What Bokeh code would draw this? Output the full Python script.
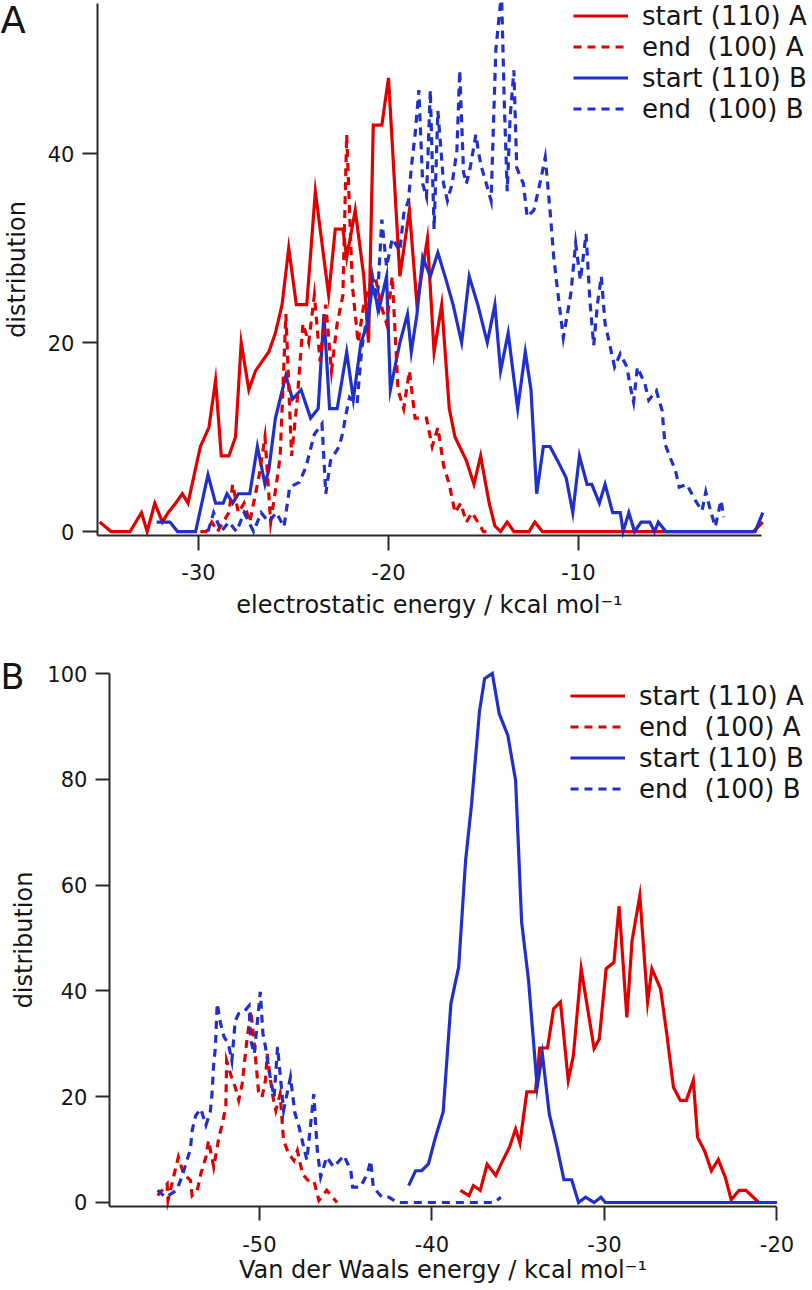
from bokeh.plotting import figure
from bokeh.layouts import column
from bokeh.models import FixedTicker, Legend, LegendItem, Label
from bokeh.embed import file_html
from bokeh.resources import INLINE

RED = "#e00000"
BLUE = "#2030c8"
FONT = "DejaVu Sans"
INK = "#151515"

legend_labels = ["start (110) A", "end  (100) A", "start (110) B", "end  (100) B"]

# ---------------- Panel A: electrostatic energy ----------------
elec_start_A_x = [-35.2, -34.6, -33.6, -33.0, -32.7, -32.3, -31.9, -31.6, -31.2, -30.85, -30.55, -29.9, -29.45, -29.1, -28.8, -28.4, -28.05, -27.75, -27.35, -27.0, -26.65, -26.3, -25.95, -25.6, -25.25, -24.85, -24.3, -23.85, -23.15, -22.8, -22.4, -22.2, -21.75, -21.3, -21.05, -20.8, -20.35, -20.0, -19.4, -18.9, -18.5, -17.95, -17.6, -17.2, -16.8, -16.5, -15.9, -15.5, -15.15, -14.7, -14.4, -14.1, -13.75, -13.4, -12.6, -12.3, -11.9, -0.8, -0.3]
elec_start_A_y = [1, 0, 0, 2, 0, 3, 1, 2, 3, 4, 3, 9, 11, 16, 8, 8, 10, 20, 15, 17, 18, 19, 21, 24, 30, 24, 24, 36, 25, 32, 32, 29, 34, 27, 20, 43, 43, 48, 27, 34, 24, 31, 19, 24, 13, 10, 7.5, 5, 8, 3, 0.6, 0, 1, 0, 0, 1, 0, 0, 1]

elec_end_A_x = [-29.9, -29.6, -29.3, -29.0, -28.7, -28.4, -28.2, -27.9, -27.6, -27.3, -27.0, -26.8, -26.5, -26.2, -25.9, -25.7, -25.4, -25.1, -24.8, -24.5, -24.2, -23.9, -23.6, -23.3, -23.0, -22.7, -22.4, -22.2, -21.9, -21.6, -21.3, -21.0, -20.7, -20.4, -20.1, -19.8, -19.5, -19.2, -18.9, -18.6, -18.3, -18.0, -17.7, -17.4, -17.1, -16.8, -16.5, -16.2, -15.9, -15.6, -15.3, -15.0, -14.8]
elec_end_A_y = [0, 0, 1, 0, 1, 2, 5, 2, 3, 1, 4, 6, 10, 1, 5, 8, 23, 8, 14, 22, 20, 25, 18, 24, 17, 22, 25, 42, 26, 20, 24, 26, 27, 24, 22, 27, 15, 13, 17, 12, 12, 12, 9, 11, 7, 5, 2, 3, 1, 2, 1, 0, 0]

elec_start_B_x = [-32.2, -31.5, -31.1, -30.15, -29.5, -29.1, -28.7, -28.5, -28.2, -27.9, -27.3, -26.9, -26.5, -26.3, -25.95, -25.4, -25.05, -24.6, -24.1, -23.7, -23.4, -23.1, -22.7, -22.2, -21.85, -21.45, -21.1, -20.85, -20.5, -20.1, -19.9, -19.4, -19.0, -18.8, -18.5, -18.2, -17.8, -17.4, -16.95, -16.6, -16.15, -15.75, -15.3, -14.8, -14.4, -14.1, -13.7, -13.2, -12.8, -12.5, -12.2, -11.85, -11.5, -11.1, -10.65, -10.3, -9.95, -9.55, -9.3, -8.9, -8.6, -8.2, -7.8, -7.65, -7.35, -7.05, -6.7, -6.25, -6.0, -5.8, -5.4, -0.7, -0.3]
elec_start_B_y = [1, 1, 0, 0, 6, 3, 3, 4, 3, 4, 4, 9, 5, 6.5, 12, 16.5, 14, 15, 12, 13, 23, 13, 13, 19, 14, 20, 22, 26, 23.5, 27, 15, 20, 23, 19, 23, 29, 27, 29.5, 26.5, 24, 20, 27, 24, 20, 24, 17, 21, 13, 19, 15, 4, 9, 9, 7.5, 5.7, 2, 8, 5, 5, 3, 5, 2, 2, 0, 2, 0, 1, 1, 0, 1, 0, 0, 2]

elec_end_B_x = [-29.5, -29.2, -28.8, -28.4, -28.0, -27.6, -27.1, -26.7, -26.3, -25.9, -25.5, -25.2, -24.7, -24.35, -23.9, -23.5, -23.3, -23.05, -22.6, -22.4, -22.25, -22.05, -21.65, -21.55, -21.4, -21.1, -20.85, -20.6, -20.35, -20.1, -19.8, -19.4, -19.2, -18.95, -18.8, -18.6, -18.4, -18.2, -18.0, -17.8, -17.6, -17.4, -17.1, -16.9, -16.65, -16.4, -16.25, -16.05, -15.9, -15.7, -15.4, -15.25, -15.1, -14.85, -14.6, -14.35, -14.05, -13.9, -13.75, -13.6, -13.4, -13.25, -12.9, -12.7, -12.35, -12.0, -11.75, -11.5, -11.3, -11.1, -10.8, -10.4, -10.15, -9.9, -9.6, -9.4, -9.2, -9.0, -8.8, -8.6, -8.4, -8.1, -7.8, -7.45, -7.3, -7.1, -6.9, -6.5, -6.3, -5.9, -5.6, -5.45, -5.15, -4.9, -4.7, -4.3, -3.85, -3.5, -3.3, -3.05, -2.8, -2.5, -2.35]
elec_end_B_y = [0, 2, 0, 1, 0, 2, 0, 2, 1, 2, 0.5, 4.7, 5.2, 6.8, 10.3, 11.4, 4, 7.5, 9, 10.5, 12.3, 14.2, 13.5, 16, 19.5, 23, 27, 24, 33, 28, 31, 29.7, 33.6, 35, 38.5, 42, 46.7, 36.8, 35.4, 46.7, 32, 44.5, 36.8, 35, 36.8, 40.3, 48.8, 38, 36.8, 38.5, 42, 40, 38.5, 36.8, 35, 51, 57, 45, 36, 43.8, 48.8, 38.5, 36.8, 33.3, 34, 37.1, 39.6, 34, 29, 25.5, 20.5, 25.2, 30.5, 26.6, 31.5, 24.4, 19.7, 24.1, 27, 22, 20.2, 17.4, 18.8, 17.4, 15.6, 13.7, 17.4, 15.6, 13.9, 14.9, 12.8, 9.3, 7.7, 6.5, 4.7, 5, 3.3, 2.2, 4.2, 2.2, 0.5, 3.3, 1.5]

elec_xticks = [-30, -20, -10]
elec_yticks = [0, 20, 40]
elec_axis_x = (-35.32, -0.37)   # extent of the drawn x axis
elec_axis_y = (-0.42, 55.87)    # extent of the drawn y axis

# ---------------- Panel B: van der Waals energy ----------------
vdw_start_A_x = [-38.35, -37.85, -37.6, -37.2, -36.8, -36.3, -35.9, -35.5, -35.15, -34.9, -34.5, -34.0, -33.75, -33.3, -32.95, -32.55, -32.1, -31.8, -31.35, -30.6, -30.3, -29.9, -29.45, -29.15, -28.7, -28.4, -27.95, -27.5, -27.25, -26.75, -26.4, -26.0, -25.6, -25.25, -24.85, -24.6, -24.2, -23.8, -23.4, -23.0, -22.65, -22.2, -21.8, -21.05]
vdw_start_A_y = [2.3, 1.3, 3.2, 2.3, 7.2, 5.1, 7.9, 10.5, 13.9, 11.2, 20.9, 20.9, 29.2, 29.2, 36.6, 37.9, 23.1, 27.8, 44.2, 29.1, 30.9, 44.2, 45.4, 56, 35, 49.5, 58, 37.9, 44.2, 40.4, 32.2, 21.8, 19.3, 19.3, 23.1, 12.3, 9.8, 6, 8.1, 4.8, 0.5, 2.3, 2.3, 0]

vdw_end_A_x = [-55.9, -55.35, -55.3, -54.7, -54.4, -54.0, -53.9, -53.6, -53.4, -53.1, -52.95, -52.65, -52.35, -52.15, -51.95, -51.9, -51.65, -51.4, -51.2, -51.0, -50.75, -50.5, -50.3, -50.05, -49.85, -49.65, -49.55, -49.25, -49.05, -48.8, -48.6, -48.3, -48.0, -47.8, -47.5, -47.2, -46.85, -46.55, -46.1, -45.5]
vdw_end_A_y = [1.3, 3.5, 0.4, 8.6, 5.4, 4.2, 1.3, 2.3, 5.4, 8.6, 11.7, 6.7, 12.3, 14.9, 18, 26.8, 24, 21.8, 19.3, 22.4, 30, 36.3, 30, 20.9, 19.9, 23.1, 28.1, 20.5, 17.4, 20.5, 11.7, 9.2, 7.9, 9.8, 5.4, 4.2, 4.2, 0.4, 2.3, 0]

vdw_start_B_x = [-41.35, -40.95, -40.6, -40.2, -39.8, -39.35, -38.9, -38.45, -38.05, -37.7, -37.25, -36.95, -36.5, -36.1, -35.6, -35.15, -34.8, -34.4, -33.9, -33.6, -33.2, -32.75, -32.35, -31.9, -31.5, -31.1, -30.6, -30.2, -29.95, -20.0]
vdw_start_B_y = [3.2, 6, 6, 7.3, 12.3, 17.1, 37.6, 44.5, 64.6, 75.4, 92.7, 99, 100, 92.4, 88.3, 79.8, 53, 42, 21.8, 28.1, 16.8, 10.5, 4.3, 4.3, 0, 1, 0, 1, 0, 0]

vdw_end_B_x = [-55.9, -55.45, -54.8, -54.5, -54.0, -53.9, -53.7, -53.4, -53.1, -52.85, -52.75, -52.65, -52.55, -52.45, -52.25, -52.05, -51.8, -51.6, -51.4, -51.2, -50.9, -50.6, -50.5, -50.3, -49.95, -49.8, -49.65, -49.45, -49.15, -48.95, -48.6, -48.2, -47.95, -47.7, -47.25, -46.85, -46.65, -46.45, -46.1, -45.7, -45.1, -44.7, -44.6, -44.15, -43.75, -43.55, -43.4, -42.9, -42.5, -42.0, -36.4, -36.0]
vdw_end_B_y = [2.3, 1, 2.3, 4.8, 10.1, 13.6, 16.4, 17.7, 14.6, 17.1, 20.5, 26.2, 29.4, 37.6, 33.8, 31.3, 30, 26.8, 34.4, 35.7, 36, 37.2, 30.6, 28.1, 39.8, 32, 29.4, 25, 19.9, 29.4, 17.4, 23.7, 17, 14.2, 8, 20.5, 10, 4.8, 8.6, 6.7, 8.9, 6, 2.9, 2.9, 5.4, 7.9, 2.9, 1, 1, 0, 0, 1]

vdw_xticks = [-50, -40, -30, -20]
vdw_yticks = [0, 20, 40, 60, 80, 100]
vdw_axis_x = (-58.7, -20.0)
vdw_axis_y = (-0.76, 100)


def style_axes(p, xticks, yticks, xext, yext, xlabel, ylabel, tick_out,
               xl_standoff, xt_standoff, yl_standoff):
    p.xgrid.visible = False
    p.ygrid.visible = False
    p.outline_line_color = None
    p.background_fill_color = "white"
    p.border_fill_color = "white"
    xa, ya = p.xaxis[0], p.yaxis[0]
    xa.ticker = FixedTicker(ticks=xticks)
    ya.ticker = FixedTicker(ticks=yticks)
    # plain hyphen-minus tick labels, as in the original figure
    xa.major_label_overrides = {t: str(t) for t in xticks}
    ya.major_label_overrides = {t: str(t) for t in yticks}
    xa.axis_label = xlabel
    ya.axis_label = ylabel
    # axes drawn inside the full-canvas frame, where the original axes sit
    xa.fixed_location = yext[0]
    ya.fixed_location = xext[0]
    xa.bounds = xext
    ya.bounds = yext
    for ax in (xa, ya):
        ax.axis_line_color = "#2a2a2a"
        ax.axis_line_width = 2
        ax.major_tick_line_color = "#2a2a2a"
        ax.major_tick_line_width = 2
        ax.major_tick_in = 0
        ax.major_tick_out = tick_out
        ax.minor_tick_line_color = None
        ax.major_label_text_font = FONT
        ax.major_label_text_font_size = "21px"
        ax.major_label_text_color = INK
        ax.major_label_standoff = 8
        ax.axis_label_text_font = FONT
        ax.axis_label_text_font_size = "24px"
        ax.axis_label_text_font_style = "normal"
        ax.axis_label_text_color = INK
    xa.major_label_standoff = xt_standoff
    xa.axis_label_standoff = xl_standoff
    ya.axis_label_standoff = yl_standoff


def add_legend(p, rends, loc):
    items = [LegendItem(label=lab, renderers=[r]) for lab, r in zip(legend_labels, rends)]
    leg = Legend(items=items, location=loc)
    leg.label_text_font = FONT
    leg.label_text_font_size = "26px"
    leg.label_text_color = INK
    leg.glyph_width = 55
    leg.glyph_height = 31
    leg.label_height = 31
    leg.label_standoff = 14
    leg.spacing = 0
    leg.padding = 0
    leg.margin = 0
    leg.border_line_color = None
    leg.background_fill_alpha = 0
    p.add_layout(leg)


LW = 3.2
DASH = "8 6"

# ---- figure A (frame fills the canvas; axes sit at fixed data locations) ----
pA = figure(width=812, height=640, x_range=(-40.42, 2.316), y_range=(-11.53, 56.19),
            output_backend="svg", toolbar_location=None, title=None,
            min_border_left=0, min_border_right=0, min_border_top=0, min_border_bottom=0)
style_axes(pA, elec_xticks, elec_yticks, elec_axis_x, elec_axis_y,
           "electrostatic energy / kcal mol\u207b\u00b9", "distribution", 15, 8, 13, 14)
rA_red = pA.line(elec_start_A_x, elec_start_A_y, line_color=RED, line_width=LW, line_join="miter")
rA_blue = pA.line(elec_start_B_x, elec_start_B_y, line_color=BLUE, line_width=LW, line_join="miter")
rA_redd = pA.line(elec_end_A_x, elec_end_A_y, line_color=RED, line_width=LW, line_dash=DASH, line_join="miter")
rA_blued = pA.line(elec_end_B_x, elec_end_B_y, line_color=BLUE, line_width=LW, line_dash=DASH, line_join="miter")
add_legend(pA, [rA_red, rA_redd, rA_blue, rA_blued], (573, 516))
pA.add_layout(Label(x=0, y=620, x_units="screen", y_units="screen", text="A",
                    text_font=FONT, text_font_size="37px", text_baseline="alphabetic", text_color=INK))

# ---- figure B ----
pB = figure(width=812, height=650, x_range=(-65.01, -17.94), y_range=(-16.64, 106.24),
            output_backend="svg", toolbar_location=None, title=None,
            min_border_left=0, min_border_right=0, min_border_top=0, min_border_bottom=0)
style_axes(pB, vdw_xticks, vdw_yticks, vdw_axis_x, vdw_axis_y,
           "Van der Waals energy / kcal mol\u207b\u00b9", "distribution", 14, 0, 16, 6)
rB_red = pB.line(vdw_start_A_x, vdw_start_A_y, line_color=RED, line_width=LW, line_join="miter")
rB_redd = pB.line(vdw_end_A_x, vdw_end_A_y, line_color=RED, line_width=LW, line_dash=DASH, line_join="miter")
rB_blue = pB.line(vdw_start_B_x, vdw_start_B_y, line_color=BLUE, line_width=LW, line_join="miter")
rB_blued = pB.line(vdw_end_B_x, vdw_end_B_y, line_color=BLUE, line_width=LW, line_dash=DASH, line_join="miter")
add_legend(pB, [rB_red, rB_redd, rB_blue, rB_blued], (570, 486))
pB.add_layout(Label(x=0, y=614, x_units="screen", y_units="screen", text="B",
                    text_font=FONT, text_font_size="35px", text_baseline="alphabetic", text_color=INK))

layout = column(pA, pB, spacing=0)
open("out.html", "w").write(file_html(layout, INLINE))
